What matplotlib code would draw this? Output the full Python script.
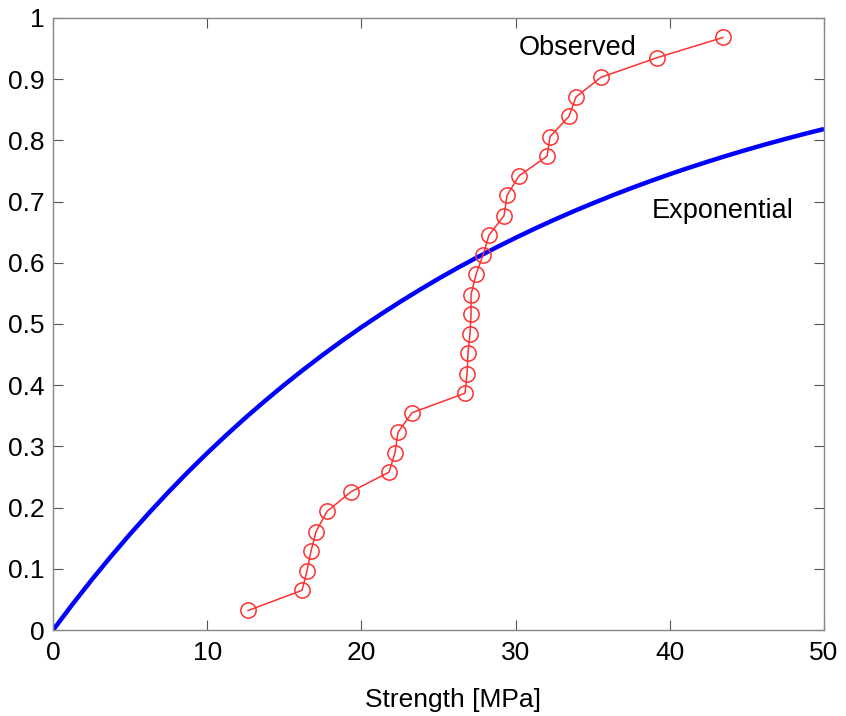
import numpy as np
import matplotlib.pyplot as plt

plt.rcParams['font.family'] = ['Liberation Sans', 'DejaVu Sans']

# observed strengths [MPa] and empirical cumulative probability
strength = [12.65, 16.15, 16.47, 16.73, 17.06, 17.77, 19.33, 21.79, 22.18, 22.37,
            23.28, 26.72, 26.85, 26.91, 27.04, 27.11, 27.11, 27.43, 27.89, 28.27,
            29.25, 29.44, 30.22, 32.04, 32.23, 33.46, 33.92, 35.54, 39.17, 43.45]
prob = [0.032, 0.065, 0.097, 0.129, 0.161, 0.194, 0.226, 0.258, 0.290, 0.323,
        0.355, 0.387, 0.419, 0.452, 0.484, 0.516, 0.548, 0.581, 0.613, 0.645,
        0.677, 0.710, 0.742, 0.774, 0.806, 0.839, 0.871, 0.903, 0.935, 0.968]

# exponential model curve
curve_x = [0, 1.25, 2.5, 3.75, 5, 6.25, 7.5, 8.75, 10, 11.25, 12.5, 13.75, 15,
           16.25, 17.5, 18.75, 20, 21.25, 22.5, 23.75, 25, 26.25, 27.5, 28.75,
           30, 31.25, 32.5, 33.75, 35, 36.25, 37.5, 38.75, 40, 41.25, 42.5,
           43.75, 45, 46.25, 47.5, 48.75, 50]
curve_y = [0, 0.0418, 0.0818, 0.1202, 0.1569, 0.1921, 0.2259, 0.2582, 0.2892,
           0.3188, 0.3473, 0.3745, 0.4007, 0.4257, 0.4497, 0.4727, 0.4947,
           0.5158, 0.5360, 0.5554, 0.5740, 0.5918, 0.6088, 0.6251, 0.6408,
           0.6558, 0.6702, 0.6840, 0.6971, 0.7098, 0.7219, 0.7335, 0.7447,
           0.7553, 0.7655, 0.7753, 0.7847, 0.7937, 0.8023, 0.8106, 0.8185]

yticks = [0, 0.1, 0.2, 0.3, 0.4, 0.5, 0.6, 0.7, 0.8, 0.9, 1]
ytick_labels = ['0', '0.1', '0.2', '0.3', '0.4', '0.5', '0.6', '0.7', '0.8', '0.9', '1']

fig = plt.figure(figsize=(8.46, 7.16), dpi=100)
ax = fig.add_axes([0.0627, 0.12, 0.9113, 0.855])

ax.plot(curve_x, curve_y, color='#0000ff', lw=3.2, solid_capstyle='butt')
ax.plot(strength, prob, color='#ff3030', lw=1.1, marker='o', markersize=11,
        markerfacecolor='none', markeredgecolor='#ff3030', markeredgewidth=1.1)

ax.text(34.0, 0.951, 'Observed', fontsize=19.5, ha='center', va='center')
ax.text(43.45, 0.685, 'Exponential', fontsize=19.5, ha='center', va='center')

ax.set_xlim(0, 50)
ax.set_ylim(0, 1)
ax.set_xticks([0, 10, 20, 30, 40, 50])
ax.set_yticks(yticks)
ax.set_yticklabels(ytick_labels)
ax.tick_params(direction='in', length=7, width=0.8, color='#555555',
               labelsize=19, top=True, right=True, pad=6)
ax.tick_params(axis='x', pad=8)
for s in ax.spines.values():
    s.set_color('#888888')
    s.set_linewidth(1.0)

ax.set_xlabel('Strength [MPa]', fontsize=19)
ax.xaxis.set_label_coords(0.519, -0.095)

fig.savefig('out.png', dpi=100)
